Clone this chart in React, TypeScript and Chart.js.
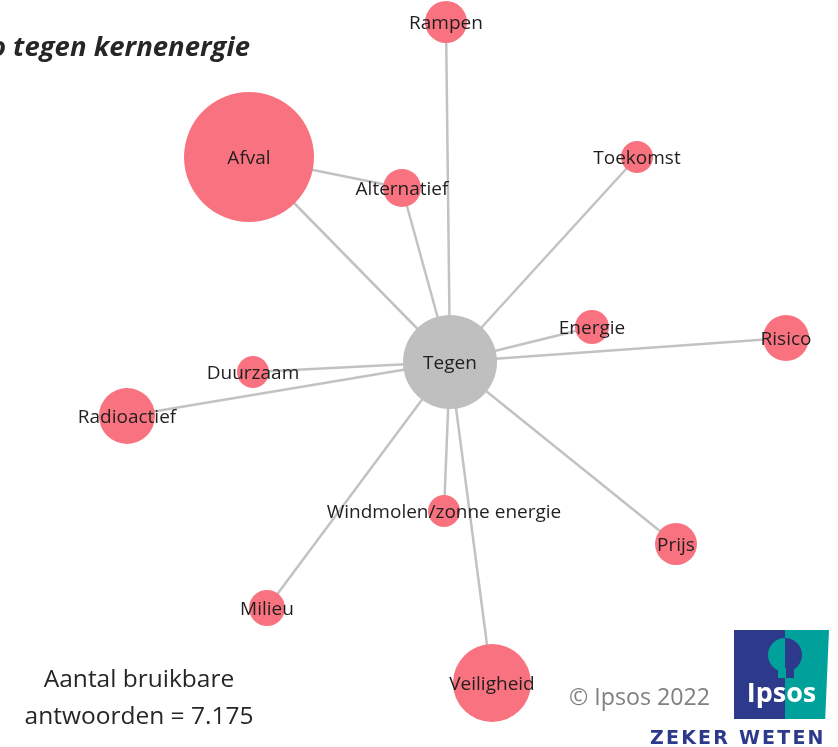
import React, { useEffect, useRef } from 'react';
import { Chart, registerables } from 'chart.js';

Chart.register(...registerables);

// ---- data ----
const nodeLabels = [
  'Tegen',
  'Afval',
  'Alternatief',
  'Rampen',
  'Toekomst',
  'Energie',
  'Risico',
  'Duurzaam',
  'Radioactief',
  'Windmolen/zonne energie',
  'Prijs',
  'Milieu',
  'Veiligheid',
];
const nodeX = [450, 249, 402, 446, 637, 592, 786, 253, 127, 444, 676, 267, 492];
const nodeY = [362, 157, 188, 22, 157, 327, 338, 372, 416, 511, 544, 608, 683];
const nodeSize = [47, 65, 19, 21, 16, 17, 23, 16, 28, 16, 21, 18, 39];
const edgeFrom = [0, 0, 0, 0, 0, 0, 0, 0, 0, 0, 0, 0, 1];
const edgeTo = [1, 2, 3, 4, 5, 6, 7, 8, 9, 10, 11, 12, 2];

const titleText = 'o tegen kernenergie';
const footnoteLines = ['Aantal bruikbare', 'antwoorden = 7.175'];
const copyrightText = '© Ipsos 2022';

const PINK = '#f9727f';
const CENTER_GRAY = '#bfbfbf';
const EDGE_GRAY = '#c2c2c2';

const labelPlugin = {
  id: 'nodeLabels',
  afterDatasetsDraw(chart: any) {
    const ctx = chart.ctx;
    const xs = chart.scales.x;
    const ys = chart.scales.y;
    ctx.save();
    ctx.font = '19px "Open Sans"';
    ctx.fillStyle = '#1f1f1f';
    ctx.textAlign = 'center';
    ctx.textBaseline = 'middle';
    nodeLabels.forEach((l, i) => {
      ctx.fillText(l, xs.getPixelForValue(nodeX[i]), ys.getPixelForValue(nodeY[i]) + 2);
    });
    ctx.restore();
  },
};

export default function App() {
  const ref = useRef<HTMLCanvasElement | null>(null);

  useEffect(() => {
    if (!ref.current) return;
    const edgeSets = edgeFrom.map((f, k) => ({
      type: 'line' as const,
      data: [
        { x: nodeX[f], y: nodeY[f] },
        { x: nodeX[edgeTo[k]], y: nodeY[edgeTo[k]] },
      ],
      borderColor: EDGE_GRAY,
      borderWidth: 2.5,
      pointRadius: 0,
      pointHoverRadius: 0,
      fill: false,
      tension: 0,
      order: 2,
      clip: false as any,
    }));
    const nodeSet = {
      type: 'bubble' as const,
      data: nodeX.map((x, i) => ({ x, y: nodeY[i], r: nodeSize[i] })),
      backgroundColor: nodeX.map((_, i) => (i === 0 ? CENTER_GRAY : PINK)),
      borderWidth: 0,
      hoverRadius: 0,
      order: 1,
      clip: false as any,
    };
    const chart = new Chart(ref.current, {
      type: 'bubble',
      data: { datasets: [...edgeSets, nodeSet] as any },
      options: {
        responsive: false,
        animation: false,
        events: [],
        layout: { padding: 0, autoPadding: false },
        plugins: { legend: { display: false }, tooltip: { enabled: false } },
        scales: {
          x: { type: 'linear', min: 0, max: 838, display: false },
          y: { type: 'linear', min: 0, max: 747, reverse: true, display: false },
        },
      } as any,
      plugins: [labelPlugin],
    });
    return () => chart.destroy();
  }, []);

  return (
    <div
      style={{
        position: 'absolute',
        left: 0,
        top: 0,
        width: 838,
        height: 747,
        overflow: 'hidden',
        background: '#fff',
        fontFamily: '"Open Sans", sans-serif',
      }}
    >
      <canvas ref={ref} width={838} height={747} style={{ position: 'absolute', left: 0, top: 0 }} />
      <div
        style={{
          position: 'absolute',
          right: 838 - 250,
          top: 27,
          fontSize: 27.5,
          fontWeight: 700,
          fontStyle: 'italic',
          color: '#262626',
          whiteSpace: 'nowrap',
          lineHeight: '38px',
        }}
      >
        {titleText}
      </div>
      <div
        style={{
          position: 'absolute',
          left: 0,
          width: 278,
          top: 659,
          textAlign: 'center',
          fontSize: 24.5,
          lineHeight: '37px',
          color: '#262626',
        }}
      >
        {footnoteLines.map((l) => (
          <div key={l}>{l}</div>
        ))}
      </div>
      <div
        style={{
          position: 'absolute',
          left: 569,
          top: 679,
          fontSize: 23.2,
          lineHeight: '34px',
          color: '#808080',
          whiteSpace: 'nowrap',
        }}
      >
        {copyrightText}
      </div>
      {/* logo */}
      <div
        style={{
          position: 'absolute',
          left: 734,
          top: 630,
          width: 95,
          height: 89,
          background: 'linear-gradient(90deg, #2d3a8c 0%, #2d3a8c 54%, #00a19a 54%, #00a19a 100%)',
          clipPath: 'polygon(0 0, 100% 0, 96% 100%, 0 100%)',
          overflow: 'hidden',
        }}
      >
        <div
          style={{
            position: 'absolute',
            left: 34,
            top: 8,
            width: 34,
            height: 34,
            borderRadius: '50%',
            background: 'linear-gradient(90deg, #00a19a 0%, #00a19a 50%, #2d3a8c 50%, #2d3a8c 100%)',
          }}
        />
        <div
          style={{
            position: 'absolute',
            left: 44,
            top: 38,
            width: 16,
            height: 10,
            background: 'linear-gradient(90deg, #00a19a 0%, #00a19a 50%, #2d3a8c 50%, #2d3a8c 100%)',
          }}
        />
        <div
          style={{
            position: 'absolute',
            left: 0,
            width: 95,
            top: 44,
            textAlign: 'center',
            color: '#fff',
            fontWeight: 700,
            fontSize: 27,
            lineHeight: '36px',
          }}
        >
          Ipsos
        </div>
      </div>
      <div
        style={{
          position: 'absolute',
          left: 650,
          top: 726,
          fontFamily: '"DejaVu Sans", sans-serif',
          fontWeight: 700,
          fontSize: 19,
          lineHeight: '22px',
          letterSpacing: 2.2,
          color: '#2d3a8c',
          whiteSpace: 'nowrap',
        }}
      >
        ZEKER WETEN
      </div>
    </div>
  );
}
